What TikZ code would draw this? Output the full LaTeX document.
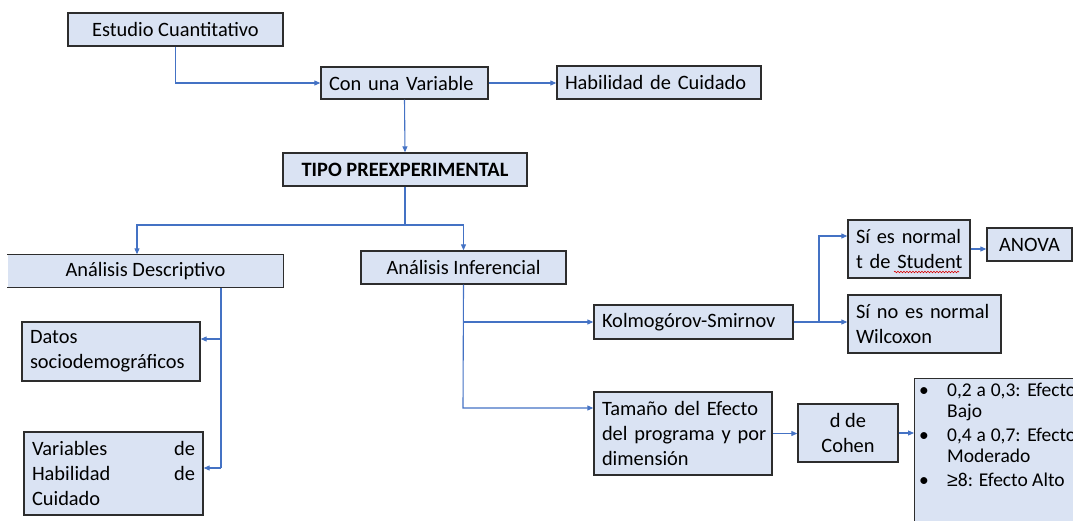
\documentclass[tikz,border=0pt]{standalone}
\usepackage{fontspec}
\setmainfont{Carlito}
\newfontfamily\symfont{Liberation Sans}
\usetikzlibrary{arrows.meta,decorations.pathmorphing}
\definecolor{boxfill}{RGB}{218,227,243}
\definecolor{boxline}{RGB}{45,45,45}
\definecolor{flowblue}{RGB}{68,114,196}

\begin{document}
\begin{tikzpicture}[x=1pt,y=-1pt,
	box/.style={draw=boxline, fill=boxfill, line width=1.4pt, inner xsep=8pt, inner ysep=0pt, font=\fontsize{20.4}{25}\selectfont},
	lbox/.style={box, align=left},
	cbox/.style={box, align=center},
	flow/.style={draw=flowblue, line width=1.1pt},
	flowarrow/.style={flow, -{Triangle[length=6pt,width=5pt]}}]
		\useasboundingbox (0,0) rectangle (1073,521);
		\clip (0,0) rectangle (1073,521);
		\node [cbox, minimum width=215, minimum height=33] (est) at (175.5,29.5) {Estudio Cuantitativo};
		\node [lbox, text width=151, minimum height=32] (conv) at (404.5,83) {\mbox{Con una Variable}};
		\node [lbox, text width=188, minimum height=33] (hab) at (659,82.5) {\mbox{Habilidad de Cuidado}};
		\node [cbox, minimum width=244, minimum height=33, font=\fontsize{20.4}{25}\selectfont\bfseries] (tipo) at (405,169.5) {TIPO PREEXPERIMENTAL};
		\node [cbox, draw=none, minimum width=275, minimum height=32] (desc) at (145.5,271) {Análisis Descriptivo};
		\draw [boxline, line width=1.4pt] (desc.north west) -- (desc.north east) -- (desc.south east) -- (desc.south west);
		\node [cbox, minimum width=205, minimum height=33] (inf) at (463.5,267.5) {Análisis Inferencial};
		\node [lbox, text width=162, minimum height=59] (datos) at (111,351.5) {\mbox{Datos}\\\mbox{sociodemográficos}};
		\node [lbox, text width=163, minimum height=83] (vars) at (113.5,473.5) {Variables\hfill de\\Habilidad\hfill de\\Cuidado};
		\node [lbox, text width=183, minimum height=34] (kolm) at (693.5,322) {\mbox{Kolmogórov-Smirnov}};
		\node [lbox, text width=106, minimum height=58] (sin) at (909,249) {\mbox{Sí es normal}\\\mbox{t de Student}};
		\node [cbox, minimum width=85, minimum height=33] (anova) at (1029.5,244.5) {ANOVA};
		\node [lbox, text width=137, minimum height=58] (sino) at (924.5,324) {\mbox{Sí no es normal}\\\mbox{Wilcoxon}};
		\node [lbox, text width=162, minimum height=83] (tam) at (683,433.5) {\mbox{Tamaño del Efecto}\\\mbox{del programa y por}\\\mbox{dimensión}};
		\node [cbox, minimum width=100, minimum height=58] (cohen) at (848,433) {d de\\Cohen};
		\node [box, anchor=north west, minimum width=180, minimum height=170] (bul) at (914,378) {};
		\node [anchor=base west, inner sep=0pt, font=\fontsize{19.5}{21.5}\selectfont] (bultxt) at (919,396) {\begin{tabular}[t]{@{}p{28pt}@{}l@{}}
			•&\makebox[129pt][s]{0,2 a 0,3: Efecto}\\
			&Bajo\\[2pt]
			•&\makebox[129pt][s]{0,4 a 0,7: Efecto}\\
			&Moderado\\[2pt]
			•&{\symfont ≥}8: Efecto Alto
		\end{tabular}};
		\draw [red!85!black, line width=0.6pt, decorate, decoration={snake, amplitude=0.8pt, segment length=3pt}] (894,272) -- (959,272);
		\coordinate (split) at (405,225);
		\coordinate (dd) at (221,339);
		\coordinate (dv) at (221,468);
		\coordinate (it) at (463,408);
		\coordinate (ks) at (819,236);
		\draw [flowarrow] (est.south) |- (conv.west);
		\draw [flowarrow] (conv.east) -- (conv.east -| hab.west);
		\draw [flowarrow] (conv.south) -- (tipo.north);
		\draw [flow] (tipo.south) -- (split);
		\draw [flowarrow] (split) -| ([xshift=-8.5]desc.north);
		\draw [flowarrow] (split) -| (inf.north);
		\draw [flow] (desc.south -| dd) -- (dv);
		\draw [flowarrow] (dd) -- (dd -| datos.east);
		\draw [flowarrow] (dv) -- (dv -| vars.east);
		\draw [flowarrow] (inf.south) |- (kolm.west);
		\draw [flowarrow] (inf.south) -- (it) -- (it -| tam.west);
		\draw [flowarrow] (kolm.east) -| (ks) -- (ks -| sin.west);
		\draw [flowarrow] (kolm.east) -- (kolm.east -| sino.west);
		\draw [flowarrow] (sin.east) -- (sin.east -| anova.west);
		\draw [flowarrow] (tam.east) -- (tam.east -| cohen.west);
		\draw [flowarrow] (cohen.east) -- (cohen.east -| bul.west);
	\end{tikzpicture}
\end{document}
